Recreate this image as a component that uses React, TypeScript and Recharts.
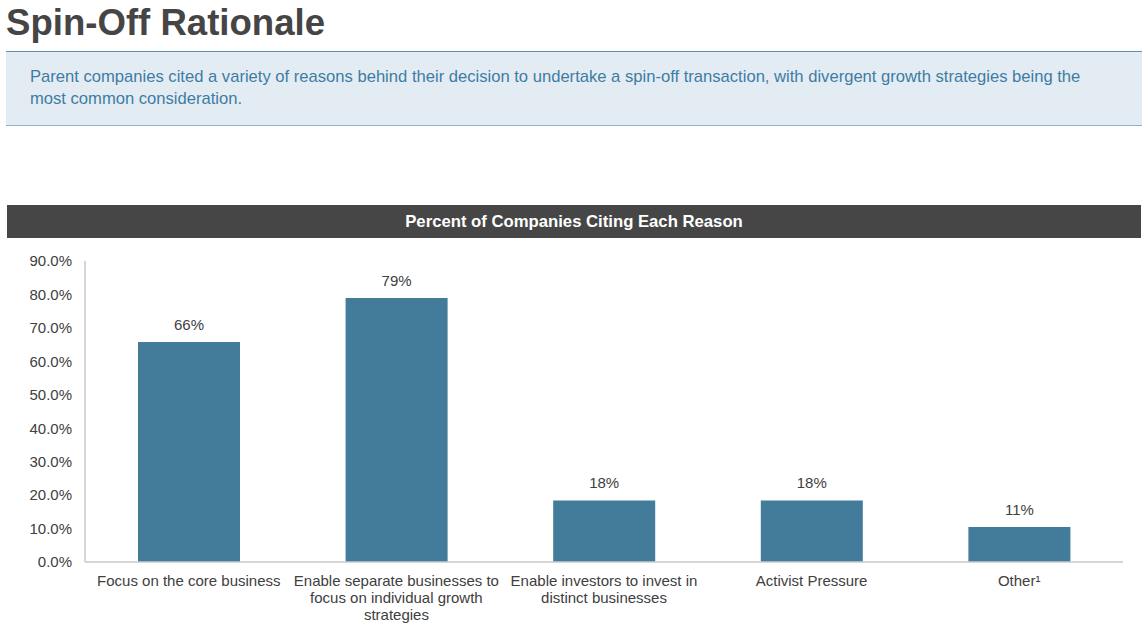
import React from "react";
import { BarChart, Bar, XAxis, YAxis, LabelList, Text } from "recharts";

const categories = [
  "Focus on the core business",
  "Enable separate businesses to focus on individual growth strategies",
  "Enable investors to invest in distinct businesses",
  "Activist Pressure",
  "Other\u00b9",
];
const percents = [65.8, 78.9, 18.4, 18.4, 10.5];
const yTicks = [0, 10, 20, 30, 40, 50, 60, 70, 80, 90];

const data = categories.map((name, i) => ({ name, value: percents[i] }));

const FONT = "'Liberation Sans', Arial, sans-serif";
const TEXT = "#404040";

const CategoryTick = (props: any) => {
  const { x, y, payload } = props;
  return (
    <Text
      x={x}
      y={y}
      width={212}
      textAnchor="middle"
      verticalAnchor="start"
      lineHeight={17}
      fill={TEXT}
      fontSize={15}
      fontFamily={FONT}
    >
      {payload.value}
    </Text>
  );
};

export default function App() {
  return (
    <div
      style={{
        position: "absolute",
        left: 0,
        top: 0,
        width: 1148,
        height: 625,
        background: "#fff",
        fontFamily: FONT,
      }}
    >
      {/* title */}
      <div
        style={{
          position: "absolute",
          left: 6,
          top: 5,
          fontSize: 36.6,
          lineHeight: "36px",
          fontWeight: "bold",
          color: "#454545",
        }}
      >
        Spin-Off Rationale
      </div>

      {/* summary box */}
      <div
        style={{
          position: "absolute",
          left: 6,
          top: 51,
          width: 1136,
          height: 73,
          background: "#e4ecf3",
          borderTop: "1.5px solid #5b8fb0",
          borderBottom: "1.5px solid #8fb5cc",
        }}
      >
        <div
          style={{
            position: "absolute",
            left: 24,
            top: 14,
            width: 1062,
            fontSize: 16.6,
            lineHeight: "22px",
            color: "#3d7ca5",
          }}
        >
          Parent companies cited a variety of reasons behind their decision to undertake a
          spin-off transaction, with divergent growth strategies being the most common
          consideration.
        </div>
      </div>

      {/* chart header */}
      <div
        style={{
          position: "absolute",
          left: 7,
          top: 205,
          width: 1134,
          height: 33,
          background: "#464646",
          color: "#fff",
          fontWeight: "bold",
          fontSize: 16.7,
          lineHeight: "33px",
          textAlign: "center",
        }}
      >
        Percent of Companies Citing Each Reason
      </div>

      <div style={{ position: "absolute", left: 0, top: 241 }}>
        <BarChart
          width={1148}
          height={384}
          data={data}
          margin={{ top: 20, right: 25, bottom: 0, left: 0 }}
          barCategoryGap={53}
        >
          <XAxis
            dataKey="name"
            height={63}
            axisLine={{ stroke: "#c8c8c8", strokeWidth: 1.5 }}
            tickLine={false}
            interval={0}
            tick={<CategoryTick />}
            tickMargin={7}
          />
          <YAxis
            width={85}
            domain={[0, 90]}
            ticks={yTicks}
            interval={0}
            axisLine={{ stroke: "#c8c8c8", strokeWidth: 1.5 }}
            tickLine={false}
            tickMargin={7}
            tickFormatter={(v: number) => v.toFixed(1) + "%"}
            tick={{ fill: TEXT, fontSize: 15, fontFamily: FONT }}
          />
          <Bar dataKey="value" fill="#437b9a" isAnimationActive={false}>
            <LabelList
              dataKey="value"
              position="top"
              offset={12}
              formatter={(v: any) => Math.round(v) + "%"}
              style={{ fill: TEXT, fontSize: 15, fontFamily: FONT }}
            />
          </Bar>
        </BarChart>
      </div>
    </div>
  );
}
